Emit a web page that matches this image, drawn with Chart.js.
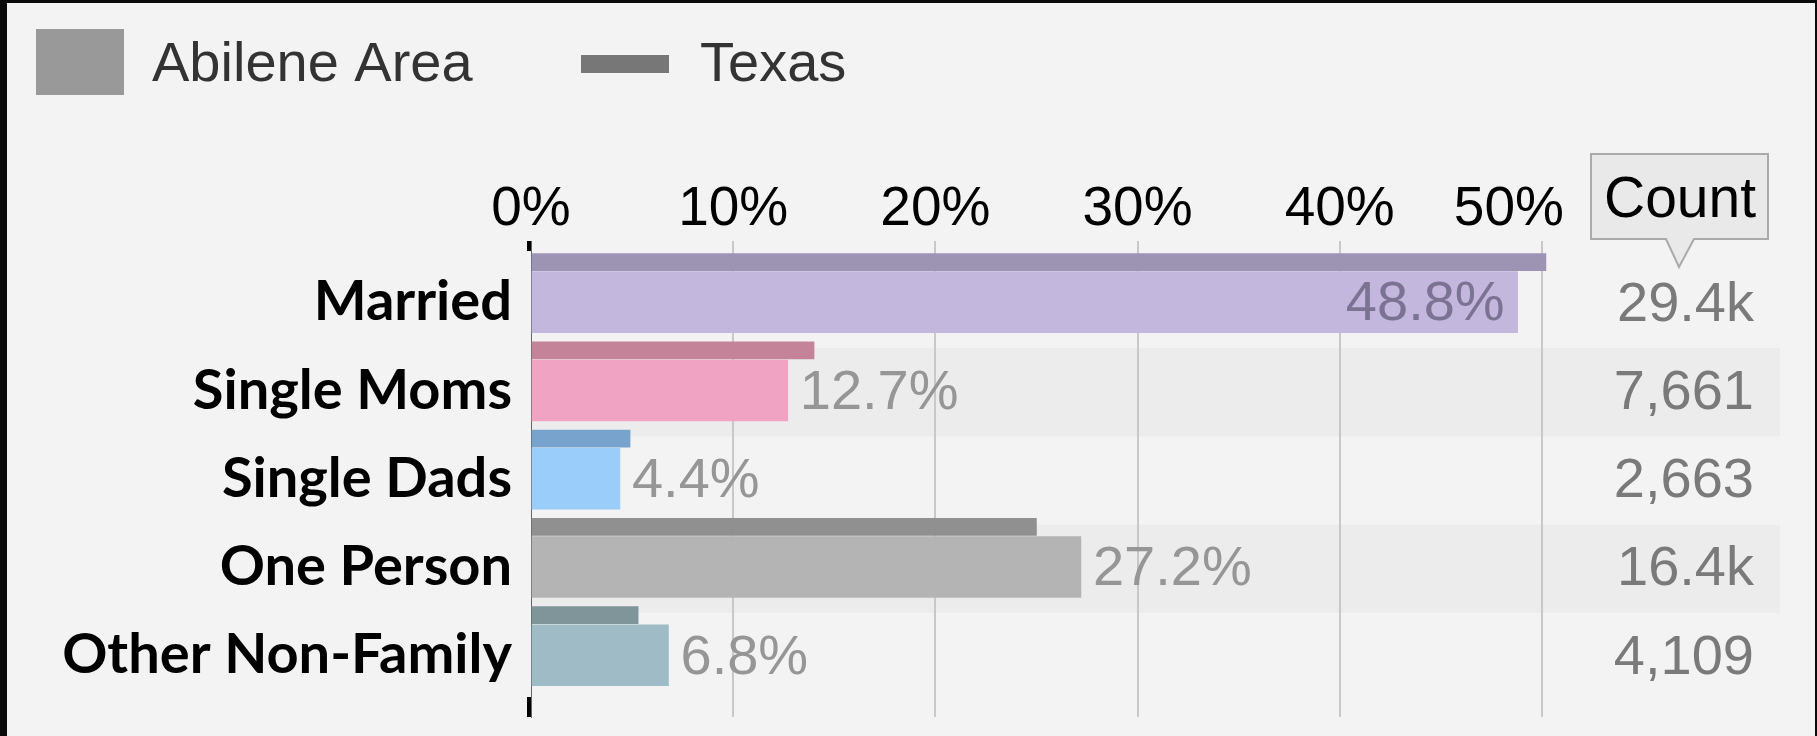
<!DOCTYPE html>
<html lang="en">
<head>
  <meta charset="UTF-8">
  <title>Household Types - Abilene Area vs Texas</title>
  <script src="https://cdn.jsdelivr.net/npm/chart.js"></script>
  <style>
    html, body {
      margin: 0;
      padding: 0;
      background: #0b0b0b;
      overflow: hidden;
    }

    #wrap {
      position: absolute;
      left: 7px;
      top: 3px;
      width: 1808px;
      height: 733px;
      background: #f3f3f3;
    }
  </style>
</head>
<body>
  <div id="wrap"><canvas id="householdChart"></canvas></div>

  <script>
    const categories = ['Married', 'Single Moms', 'Single Dads', 'One Person', 'Other Non-Family'];
    const abileneShare = [48.8, 12.7, 4.4, 27.2, 6.8];
    const texasShare = [50.2, 14.0, 4.9, 25.0, 5.3];
    const householdCounts = [29400, 7661, 2663, 16400, 4109];
    const percentTicks = [0, 10, 20, 30, 40, 50];

    const abileneColors = ['#c4b7de', '#f0a3c2', '#9bcdfb', '#b4b4b4', '#9fbcc6'];
    const texasColors = ['#9d94b4', '#c48399', '#77a3cd', '#909090', '#7f9599'];
    const legendColors = ['#999999', '#777777'];

    // texas bar sits just above the abilene bar in each row
    const TEXAS_SHIFT = 0.455;
    const numFont = "'Liberation Sans', Arial, sans-serif";

    function formatCount(n) {
      if (n >= 10000) return (n / 1000).toFixed(1) + 'k';
      return n.toLocaleString('en-US');
    }

    const householdDecor = {
      id: 'householdDecor',
      beforeDraw(chart) {
        const { ctx, chartArea, scales } = chart;
        const bandRight = chart.width - 35;
        ctx.save();
        ctx.fillStyle = '#ececec';
        categories.forEach((c, i) => {
          if (i % 2 === 0) return;
          const a = scales.y.getPixelForValue(i - 0.48);
          const b = scales.y.getPixelForValue(i + 0.52);
          ctx.fillRect(chartArea.left, Math.min(a, b), bandRight - chartArea.left, Math.abs(b - a));
        });
        ctx.restore();
      },
      afterDraw(chart) {
        const { ctx, chartArea } = chart;
        const meta = chart.getDatasetMeta(0);
        ctx.save();

        // axis end marks
        ctx.fillStyle = '#000';
        ctx.fillRect(chartArea.left - 4, chartArea.top, 4, 10);
        ctx.fillRect(chartArea.left - 4, chartArea.bottom - 20, 4, 20);

        // value labels
        ctx.font = '56px ' + numFont;
        ctx.textBaseline = 'middle';
        meta.data.forEach((bar, i) => {
          const txt = abileneShare[i].toFixed(1) + '%';
          const w = ctx.measureText(txt).width;
          if (bar.x + 13 + w > chartArea.right) {
            ctx.fillStyle = '#7b7392';
            ctx.textAlign = 'right';
            ctx.fillText(txt, bar.x - 13, bar.y + 2);
          } else {
            ctx.fillStyle = '#969696';
            ctx.textAlign = 'left';
            ctx.fillText(txt, bar.x + 12, bar.y + 3);
          }
        });

        // count column
        const countX = chartArea.right + 202;
        ctx.fillStyle = '#7a7a7a';
        ctx.textAlign = 'right';
        meta.data.forEach((bar, i) => {
          ctx.fillText(formatCount(householdCounts[i]), countX, bar.y + 3);
        });

        // count header callout
        const boxL = countX - 163, boxR = countX + 14;
        const boxT = chartArea.top - 87, boxB = chartArea.top - 2;
        ctx.beginPath();
        ctx.moveTo(boxL, boxT);
        ctx.lineTo(boxR, boxT);
        ctx.lineTo(boxR, boxB);
        ctx.lineTo(countX - 60, boxB);
        ctx.lineTo(countX - 75, chartArea.top + 26);
        ctx.lineTo(countX - 88, boxB);
        ctx.lineTo(boxL, boxB);
        ctx.closePath();
        ctx.fillStyle = '#e9e9e9';
        ctx.fill();
        ctx.strokeStyle = '#aaaaaa';
        ctx.lineWidth = 2;
        ctx.stroke();
        ctx.fillStyle = '#000';
        ctx.textAlign = 'left';
        ctx.textBaseline = 'alphabetic';
        ctx.font = '57px ' + numFont;
        ctx.fillText('Count', countX - 150, chartArea.top - 24);

        // legend
        ctx.font = '56px ' + numFont;
        ctx.fillStyle = legendColors[0];
        ctx.fillRect(29, 26, 88, 66);
        ctx.fillStyle = '#333';
        ctx.textBaseline = 'middle';
        ctx.fillText(chart.data.datasets[0].label, 145, 63);
        ctx.fillStyle = legendColors[1];
        ctx.fillRect(574, 52, 88, 18);
        ctx.fillStyle = '#333';
        ctx.fillText(chart.data.datasets[1].label, 693, 63);

        ctx.restore();
      }
    };

    const ctx = document.getElementById('householdChart').getContext('2d');
    new Chart(ctx, {
      type: 'bar',
      data: {
        datasets: [
          {
            label: 'Abilene Area',
            data: abileneShare.map((v, i) => ({ x: v, y: i })),
            backgroundColor: abileneColors,
            barThickness: 61,
            grouped: false
          },
          {
            label: 'Texas',
            data: texasShare.map((v, i) => ({ x: v, y: i - TEXAS_SHIFT })),
            backgroundColor: texasColors,
            barThickness: 17,
            grouped: false
          }
        ]
      },
      options: {
        indexAxis: 'y',
        responsive: true,
        maintainAspectRatio: false,
        animation: false,
        layout: {
          padding: { top: 0, left: 0, right: 263, bottom: 19 }
        },
        plugins: {
          legend: { display: false },
          tooltip: { enabled: false }
        },
        scales: {
          x: {
            type: 'linear',
            position: 'top',
            min: 0,
            max: 50.5,
            afterBuildTicks: scale => {
              scale.ticks = percentTicks.map(v => ({ value: v }));
            },
            afterFit: scale => { scale.height = 238; },
            ticks: {
              color: '#000',
              padding: -2,
              maxRotation: 0,
              font: { family: numFont, size: 55 },
              callback: function(value, index, ticks) {
                // last label nudged left like the original
                return index === ticks.length - 1 ? value + '%\u2003\u2009' : value + '%';
              }
            },
            grid: {
              drawTicks: false,
              lineWidth: 2,
              color: c => (c.tick && c.tick.value === 0) ? 'rgba(0,0,0,0)' : '#c8c8c8'
            },
            border: { display: false }
          },
          y: {
            type: 'linear',
            reverse: true,
            offset: false,
            min: -0.6935,
            max: 4.7,
            afterBuildTicks: scale => {
              scale.ticks = categories.map((c, i) => ({ value: i }));
            },
            afterFit: scale => {
              scale.width = 524;
              scale.paddingTop = 0;
              scale.paddingBottom = 0;
            },
            ticks: {
              color: '#000',
              padding: 11,
              font: { family: 'Lato', weight: 'bold', size: 56 },
              callback: value => categories[value]
            },
            grid: { display: false, offset: false },
            border: { display: true, color: '#666', width: 1 }
          }
        }
      },
      plugins: [householdDecor]
    });
  </script>
</body>
</html>
